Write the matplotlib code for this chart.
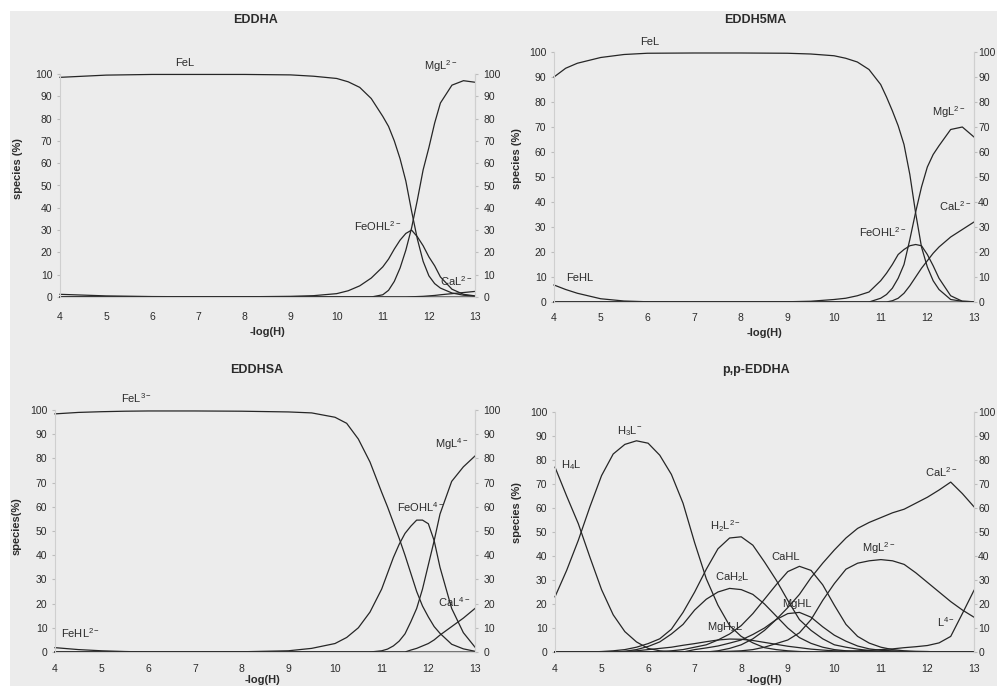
import matplotlib
matplotlib.use("Agg")
import matplotlib.pyplot as plt
from matplotlib.patches import Rectangle

plt.rcParams['font.family'] = ['Liberation Sans', 'DejaVu Sans']
plt.rcParams['mathtext.fontset'] = 'custom'
plt.rcParams['mathtext.rm'] = 'Liberation Sans'
plt.rcParams['mathtext.it'] = 'Liberation Sans:italic'
plt.rcParams['mathtext.bf'] = 'Liberation Sans:bold'
plt.rcParams['mathtext.default'] = 'regular'

W, H = 997, 686

# ---------------- Panel 1: EDDHA ----------------
X1 = [4, 5, 6, 7, 8, 9, 9.5, 10, 10.25, 10.5, 10.75, 11, 11.125, 11.25, 11.375,
      11.5, 11.625, 11.75, 11.875, 12, 12.125, 12.25, 12.5, 12.75, 13]
P1_FEL = [98.5, 99.5, 99.8, 99.8, 99.8, 99.6, 99, 98, 96.5, 94, 89, 81, 76.5, 70, 62,
          52, 38.5, 26, 16, 9.5, 6, 4, 1.8, 0.8, 0.4]
P1_FEOHL = [0, 0, 0, 0, 0.1, 0.3, 0.6, 1.5, 2.8, 5, 8.5, 13.5, 17, 21.5, 25.5,
            28.5, 30, 27, 23, 18, 14, 9, 3.5, 1.2, 0.5]
P1_MGL = [0, 0, 0, 0, 0, 0, 0, 0, 0, 0, 0, 1, 3, 7, 13,
          21, 31, 43.5, 57, 67, 78, 87, 95, 97, 96.3]
P1_CAL = [0, 0, 0, 0, 0, 0, 0, 0, 0, 0, 0, 0, 0, 0, 0,
          0, 0.1, 0.2, 0.3, 0.5, 0.7, 1, 1.5, 2, 2.5]
P1_FEHL = [1.2, 0.5, 0.2, 0.1, 0, 0, 0, 0, 0, 0, 0, 0, 0, 0, 0,
           0, 0, 0, 0, 0, 0, 0, 0, 0, 0]

# ---------------- Panel 2: EDDH5MA ----------------
X2 = [4, 4.25, 4.5, 5, 5.5, 6, 7, 8, 9, 9.5, 10, 10.25, 10.5, 10.75, 11, 11.125,
      11.25, 11.375, 11.5, 11.625, 11.75, 11.875, 12, 12.125, 12.25, 12.5, 12.75, 13]
P2_FEL = [90, 93.5, 95.5, 97.8, 99, 99.5, 99.6, 99.6, 99.5, 99.2, 98.5, 97.5, 96, 93, 87, 82,
          76.5, 70.5, 63, 51, 35.5, 22, 14, 8.5, 5, 1, 0.3, 0.1]
P2_FEOHL = [0, 0, 0, 0, 0, 0, 0, 0, 0.1, 0.3, 1, 1.5, 2.5, 4, 8.5, 11.5,
            15, 19, 21, 22.5, 23, 22.5, 19, 14.5, 9.5, 2.5, 0.3, 0.1]
P2_MGL = [0, 0, 0, 0, 0, 0, 0, 0, 0, 0, 0, 0, 0, 0, 1.5, 3,
          5.5, 9.5, 15, 25, 36, 46, 54, 59, 62.5, 69, 70, 66]
P2_CAL = [0, 0, 0, 0, 0, 0, 0, 0, 0, 0, 0, 0, 0, 0, 0, 0,
          0.5, 1.5, 3.5, 6.5, 10, 13.5, 16.5, 19.5, 22, 26, 29, 32]
P2_FEHL = [6.8, 5, 3.5, 1.3, 0.4, 0.1, 0, 0, 0, 0, 0, 0, 0, 0, 0, 0,
           0, 0, 0, 0, 0, 0, 0, 0, 0, 0, 0, 0]

# ---------------- Panel 3: EDDHSA ----------------
X3 = [4, 4.25, 4.5, 5, 5.5, 6, 7, 8, 9, 9.5, 10, 10.25, 10.5, 10.75, 11, 11.125,
      11.25, 11.375, 11.5, 11.625, 11.75, 11.875, 12, 12.125, 12.25, 12.5, 12.75, 13]
P3_FEL = [98.4, 98.7, 99, 99.3, 99.5, 99.6, 99.6, 99.5, 99.2, 98.8, 97, 94.5, 88, 78.5, 66, 60,
          53.5, 47, 40, 32.5, 25, 19, 14.5, 10.5, 7.7, 3.2, 1.3, 0.3]
P3_FEOHL = [0, 0, 0, 0, 0, 0, 0, 0.1, 0.5, 1.5, 3.5, 6, 10, 16.5, 26, 32.5,
            39, 44.5, 49, 52, 54.5, 54.5, 53, 46, 35, 18, 8, 2]
P3_MGL = [0, 0, 0, 0, 0, 0, 0, 0, 0, 0, 0, 0, 0, 0, 0.5, 1.2,
          2.5, 4.5, 7.5, 12.5, 18, 26, 36, 46, 57, 70.5, 76.5, 81]
P3_CAL = [0, 0, 0, 0, 0, 0, 0, 0, 0, 0, 0, 0, 0, 0, 0, 0,
          0, 0, 0, 0.8, 1.5, 2.5, 3.5, 5, 7, 10.5, 14, 18]
P3_FEHL = [1.8, 1.4, 1, 0.5, 0.2, 0, 0, 0, 0, 0, 0, 0, 0, 0, 0, 0,
           0, 0, 0, 0, 0, 0, 0, 0, 0, 0, 0, 0]

# ---------------- Panel 4: p,p-EDDHA ----------------
X4 = [4, 4.25, 4.5, 4.75, 5, 5.25, 5.5, 5.75, 6, 6.25, 6.5, 6.75, 7, 7.25, 7.5, 7.75,
      8, 8.25, 8.5, 8.75, 9, 9.25, 9.5, 9.75, 10, 10.25, 10.5, 10.75, 11, 11.25, 11.5,
      11.75, 12, 12.25, 12.5, 12.75, 13]
P4_H4L = [77, 65, 53.5, 39.5, 26, 15.5, 8.5, 4.2, 1.5, 0.5, 0.2, 0, 0, 0, 0, 0,
          0, 0, 0, 0, 0, 0, 0, 0, 0, 0, 0, 0, 0, 0, 0,
          0, 0, 0, 0, 0, 0]
P4_H3L = [23, 34, 46.5, 60.5, 73.5, 82.5, 86.5, 88, 87, 82, 74, 62, 45.5, 30.5, 19.5, 11,
          6.5, 3.8, 1.8, 1, 0.5, 0.2, 0, 0, 0, 0, 0, 0, 0, 0, 0,
          0, 0, 0, 0, 0, 0]
P4_H2L = [0, 0, 0, 0, 0.2, 0.5, 1, 2, 3.5, 5.5, 9.5, 16.5, 25, 34.5, 43, 47.5,
          48, 44.5, 37.5, 30, 21.5, 13.5, 9, 5.5, 3, 2, 1.2, 0.6, 0.3, 0, 0,
          0, 0, 0, 0, 0, 0]
P4_CAH2L = [0, 0, 0, 0, 0, 0, 0.3, 1, 2.3, 4.2, 7.5, 11.5, 17.5, 22, 25, 26.5,
            26, 24, 20, 15, 10, 6, 3.6, 2, 1, 0.5, 0.2, 0, 0, 0, 0,
            0, 0, 0, 0, 0, 0]
P4_MGH2L = [0, 0, 0, 0, 0, 0, 0.2, 0.5, 1, 1.5, 2, 2.8, 3.5, 4.3, 5, 5.4,
            5.3, 4.8, 4, 3.2, 2.4, 1.8, 1.2, 0.8, 0.5, 0.3, 0.2, 0, 0, 0, 0,
            0, 0, 0, 0, 0, 0]
P4_CAHL = [0, 0, 0, 0, 0, 0, 0, 0, 0, 0, 0.5, 1, 2, 3, 5, 7.5,
           11, 16, 22, 28, 33.5, 35.7, 34, 28, 19.5, 11.5, 6.5, 3.7, 2, 1, 0.5,
           0.3, 0.2, 0, 0, 0, 0]
P4_MGHL = [0, 0, 0, 0, 0, 0, 0, 0, 0, 0, 0, 0, 1, 1.7, 2.5, 3.7,
           5, 7.3, 10, 13.5, 16, 16.5, 14.5, 10.5, 7, 4.5, 2.5, 1.3, 0.7, 0.5, 0.3,
           0, 0, 0, 0, 0, 0]
P4_CAL = [0, 0, 0, 0, 0, 0, 0, 0, 0, 0, 0, 0, 0, 0, 0.5, 1.5,
          3, 5.5, 9, 13.5, 18.5, 24, 31, 37, 42.5, 47.5, 51.5, 54, 56, 58, 59.5,
          62, 64.5, 67.5, 70.8, 66, 60.5]
P4_MGL = [0, 0, 0, 0, 0, 0, 0, 0, 0, 0, 0, 0, 0, 0, 0.2, 0.3,
          0.5, 1, 2, 3.5, 5, 8, 13.5, 21.5, 28.5, 34.5, 37, 38, 38.5, 38, 36.5,
          33, 29, 25, 21, 17.5, 14.5]
P4_L = [0, 0, 0, 0, 0, 0, 0, 0, 0, 0, 0, 0, 0, 0, 0, 0,
        0, 0, 0, 0, 0, 0, 0, 0, 0.2, 0.3, 0.5, 0.7, 1, 1.3, 1.8,
        2.2, 2.7, 3.8, 6.5, 16, 25.7]

X_TICKS = [4, 5, 6, 7, 8, 9, 10, 11, 12, 13]
Y_TICKS = [0, 10, 20, 30, 40, 50, 60, 70, 80, 90, 100]

TITLES = ["EDDHA", "EDDH5MA", "EDDHSA", "p,p-EDDHA"]
YLABELS = ["species (%)", "species (%)", "species(%)", "species (%)"]
XLABEL = "-log(H)"

LINE_C = '#262626'
TXT_C = '#2b2b2b'

fig = plt.figure(figsize=(W / 100, H / 100), dpi=100)
fig.patch.set_facecolor('#ececec')
fig.add_artist(Rectangle((0, 1 - 11 / H), 1, 11 / H, transform=fig.transFigure,
                         facecolor='white', edgecolor='none', zorder=0))
fig.add_artist(Rectangle((0, 0), 10 / W, 1, transform=fig.transFigure,
                         facecolor='white', edgecolor='none', zorder=0))


def make_ax(l, t, r, b, xpad, rpad):
    ax = fig.add_axes([l / W, 1 - b / H, (r - l) / W, (b - t) / H])
    ax.set_facecolor('none')
    ax.set_xlim(4, 13)
    ax.set_ylim(0, 100)
    ax.set_xticks(X_TICKS)
    ax.set_yticks(Y_TICKS)
    ax.spines['top'].set_visible(False)
    for s in ['left', 'right', 'bottom']:
        ax.spines[s].set_color('#cfcfcf')
        ax.spines[s].set_linewidth(0.8)
    ax.tick_params(axis='y', labelsize=7.5, colors='#bdbdbd', labelcolor=TXT_C,
                   length=2.5, pad=3)
    ax.tick_params(axis='x', labelsize=7.5, colors='#bdbdbd', labelcolor=TXT_C,
                   length=0, pad=xpad)
    ax2 = ax.twinx()
    ax2.set_ylim(0, 100)
    ax2.set_yticks(Y_TICKS)
    for s in ['top', 'left', 'bottom']:
        ax2.spines[s].set_visible(False)
    ax2.spines['right'].set_color('#cfcfcf')
    ax2.tick_params(axis='y', labelsize=7.5, colors='#bdbdbd', labelcolor=TXT_C,
                    length=2, pad=rpad)
    return ax


def curve(ax, x, y):
    ax.plot(x, y, color=LINE_C, lw=0.9, clip_on=False, solid_joinstyle='round')


def label(ax, x, y, s):
    ax.text(x, y, s, fontsize=8, color=TXT_C, ha='center', va='center')


# Panel 1
ax1 = make_ax(60, 74, 475, 297, 11, 4)
for ys in [P1_FEHL, P1_CAL, P1_FEOHL, P1_MGL, P1_FEL]:
    curve(ax1, X1, ys)
label(ax1, 6.7, 105, "FeL")
label(ax1, 12.25, 103.5, r"MgL$^{2-}$")
label(ax1, 10.9, 32, r"FeOHL$^{2-}$")
label(ax1, 12.6, 7, r"CaL$^{2-}$")

# Panel 2
ax2 = make_ax(554, 52, 974, 302, 8, 1)
for ys in [P2_FEHL, P2_CAL, P2_FEOHL, P2_MGL, P2_FEL]:
    curve(ax2, X2, ys)
label(ax2, 6.05, 104, "FeL")
label(ax2, 4.55, 9.5, "FeHL")
label(ax2, 11.05, 28, r"FeOHL$^{2-}$")
label(ax2, 12.45, 76, r"MgL$^{2-}$")
label(ax2, 12.6, 38.5, r"CaL$^{2-}$")

# Panel 3
ax3 = make_ax(55, 410, 475, 652, 9, 4)
for ys in [P3_FEHL, P3_CAL, P3_FEOHL, P3_MGL, P3_FEL]:
    curve(ax3, X3, ys)
label(ax3, 5.75, 105, r"FeL$^{3-}$")
label(ax3, 4.55, 8, r"FeHL$^{2-}$")
label(ax3, 11.85, 60, r"FeOHL$^{4-}$")
label(ax3, 12.5, 86, r"MgL$^{4-}$")
label(ax3, 12.55, 20.5, r"CaL$^{4-}$")

# Panel 4
ax4 = make_ax(555, 412, 974, 652, 9, 1)
for ys in [P4_L, P4_MGH2L, P4_MGHL, P4_CAH2L, P4_CAHL, P4_H2L, P4_MGL, P4_CAL,
           P4_H4L, P4_H3L]:
    curve(ax4, X4, ys)
label(ax4, 4.35, 78, r"H$_4$L")
label(ax4, 5.6, 92, r"H$_3$L$^{-}$")
label(ax4, 7.65, 52.5, r"H$_2$L$^{2-}$")
label(ax4, 7.8, 31, r"CaH$_2$L")
label(ax4, 7.65, 10.5, r"MgH$_2$L")
label(ax4, 8.95, 39.5, "CaHL")
label(ax4, 9.2, 20, "MgHL")
label(ax4, 10.95, 43.5, r"MgL$^{2-}$")
label(ax4, 12.3, 75, r"CaL$^{2-}$")
label(ax4, 12.4, 12.5, r"L$^{4-}$")

# Titles
for (px, py), t in zip([(255, 20), (755, 20), (257, 370), (756, 370)], TITLES):
    fig.text(px / W, 1 - py / H, t, ha='center', va='center', fontsize=9,
             fontweight='bold', color=TXT_C)
# x labels
for (px, py) in [(267, 332), (764, 333), (262, 680), (764, 680)]:
    fig.text(px / W, 1 - py / H, XLABEL, ha='center', va='center', fontsize=8,
             fontweight='bold', color=TXT_C)
# y labels
for (px, py), t in zip([(18, 169), (517, 159), (17, 526), (517, 513)], YLABELS):
    fig.text(px / W, 1 - py / H, t, ha='center', va='center', fontsize=8,
             fontweight='bold', color=TXT_C, rotation=90)

fig.savefig("out.png", dpi=100, facecolor=fig.get_facecolor())
